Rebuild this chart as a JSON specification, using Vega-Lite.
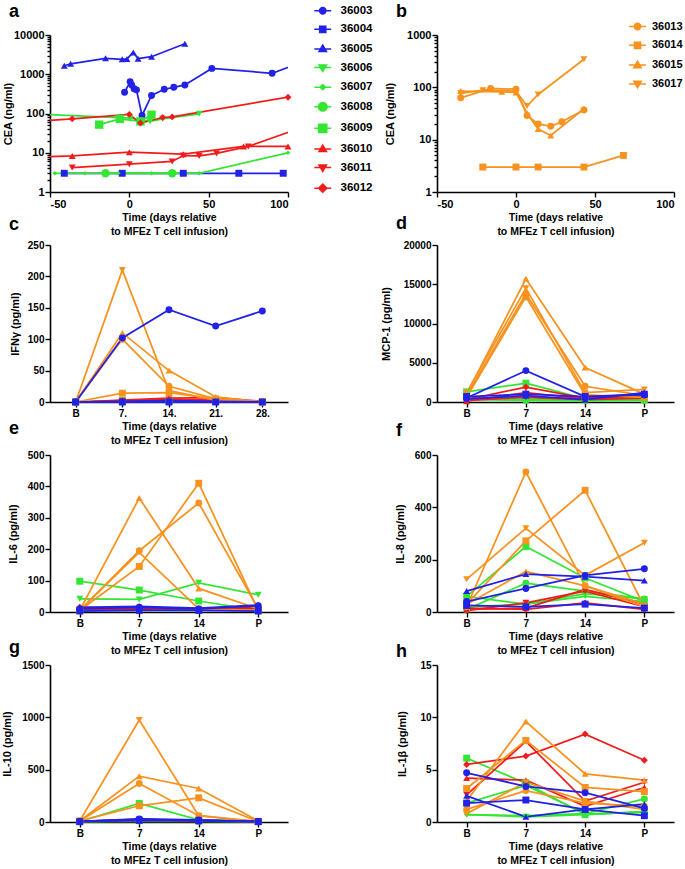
{
"$schema": "https://vega.github.io/schema/vega-lite/v6.json",
"autosize": {"type": "pad"},
"padding": {"left": 1, "top": 3, "right": 0, "bottom": 0},
"background": "white",
"config": {
  "font": "Liberation Sans",
  "view": {"stroke": null},
  "axis": {"labelFont": "Liberation Sans", "labelFontSize": 10, "labelFontWeight": "bold", "labelColor": "black", "titleFont": "Liberation Sans", "titleFontSize": 11, "titleFontWeight": "bold", "titleColor": "black", "domainColor": "black", "domainWidth": 1.6, "tickColor": "black", "tickWidth": 1.4, "tickSize": 5, "grid": false, "labelPadding": 1},
  "axisX": {"titleFontSize": 10.5, "titleLineHeight": 14, "titlePadding": 3},
  "legend": {"labelFont": "Liberation Sans", "labelFontWeight": "bold", "labelFontSize": 11.5, "labelColor": "black", "padding": 0},
  "title": {"font": "Liberation Sans", "fontSize": 18, "fontWeight": "bold", "color": "black", "anchor": "start", "frame": "group", "offset": 0, "baseline": "alphabetic"}
},
"datasets": {
"cea": [
{"p":"36003","d":-3,"v":347},{"p":"36003","d":0.5,"v":650},{"p":"36003","d":1.5,"v":535},{"p":"36003","d":3,"v":425},{"p":"36003","d":4.5,"v":400},{"p":"36003","d":8,"v":89},{"p":"36003","d":14,"v":288},{"p":"36003","d":22,"v":415},{"p":"36003","d":28,"v":465},{"p":"36003","d":35,"v":535},{"p":"36003","d":52,"v":1410},{"p":"36003","d":90,"v":1060},{"p":"36003","d":110,"v":2100},
{"p":"36004","d":-41,"v":3},{"p":"36004","d":-4.5,"v":3},{"p":"36004","d":34,"v":3},{"p":"36004","d":69,"v":3},{"p":"36004","d":97,"v":3},
{"p":"36005","d":-41,"v":1650},{"p":"36005","d":-37,"v":1850},{"p":"36005","d":-15,"v":2550},{"p":"36005","d":-4.5,"v":2400},{"p":"36005","d":-1.5,"v":2450},{"p":"36005","d":2.5,"v":3600},{"p":"36005","d":5.5,"v":2500},{"p":"36005","d":14,"v":2800},{"p":"36005","d":35,"v":6000},
{"p":"36006","d":-60,"v":97},{"p":"36006","d":0.5,"v":76},{"p":"36006","d":13,"v":63},{"p":"36006","d":21,"v":73},{"p":"36006","d":44,"v":98},
{"p":"36007","d":-47,"v":3},{"p":"36007","d":-28,"v":3},{"p":"36007","d":-7,"v":3},{"p":"36007","d":14,"v":3},{"p":"36007","d":44,"v":3},{"p":"36007","d":100,"v":10},
{"p":"36008","d":-15,"v":3},{"p":"36008","d":27,"v":3},
{"p":"36009","d":-19,"v":52},{"p":"36009","d":-6,"v":73},{"p":"36009","d":7,"v":63},{"p":"36009","d":14,"v":93},
{"p":"36010","d":-60,"v":7.8},{"p":"36010","d":-36,"v":8.3},{"p":"36010","d":0,"v":10.3},{"p":"36010","d":34,"v":9.2},{"p":"36010","d":72,"v":14.5},{"p":"36010","d":100,"v":14.5},
{"p":"36011","d":-36,"v":4.2},{"p":"36011","d":0,"v":5.1},{"p":"36011","d":27,"v":6},{"p":"36011","d":34,"v":8.5},{"p":"36011","d":44,"v":8.3},{"p":"36011","d":55,"v":9.6},{"p":"36011","d":75,"v":14.5},{"p":"36011","d":110,"v":46},
{"p":"36012","d":-60,"v":62},{"p":"36012","d":-36,"v":73},{"p":"36012","d":0,"v":95},{"p":"36012","d":7,"v":57},{"p":"36012","d":21,"v":79},{"p":"36012","d":27,"v":82},{"p":"36012","d":100,"v":260},
{"p":"36013","d":-35,"v":63},{"p":"36013","d":-16,"v":95},{"p":"36013","d":0,"v":92},{"p":"36013","d":7,"v":29},{"p":"36013","d":14,"v":20},{"p":"36013","d":22,"v":18},{"p":"36013","d":29,"v":22},{"p":"36013","d":43,"v":37},
{"p":"36014","d":-21,"v":3},{"p":"36014","d":0,"v":3},{"p":"36014","d":14,"v":3},{"p":"36014","d":43,"v":3},{"p":"36014","d":68,"v":5},
{"p":"36015","d":-35,"v":85},{"p":"36015","d":-9,"v":82},{"p":"36015","d":0,"v":80},{"p":"36015","d":7,"v":32},{"p":"36015","d":14,"v":16},{"p":"36015","d":22,"v":12},{"p":"36015","d":43,"v":39},
{"p":"36017","d":-35,"v":77},{"p":"36017","d":-21,"v":88},{"p":"36017","d":0,"v":85},{"p":"36017","d":7,"v":44},{"p":"36017","d":14,"v":73},{"p":"36017","d":43,"v":345}
],
"cyto": [
{"k":"IFNg","p":"36006","t":"B","v":0},{"k":"IFNg","p":"36006","t":"7.","v":1},{"k":"IFNg","p":"36006","t":"14.","v":1},{"k":"IFNg","p":"36006","t":"21.","v":0},{"k":"IFNg","p":"36006","t":"28.","v":0},
{"k":"IFNg","p":"36007","t":"B","v":0},{"k":"IFNg","p":"36007","t":"7.","v":0},{"k":"IFNg","p":"36007","t":"14.","v":1},{"k":"IFNg","p":"36007","t":"21.","v":0},{"k":"IFNg","p":"36007","t":"28.","v":0},
{"k":"IFNg","p":"36008","t":"B","v":0},{"k":"IFNg","p":"36008","t":"7.","v":1},{"k":"IFNg","p":"36008","t":"14.","v":1},{"k":"IFNg","p":"36008","t":"21.","v":1},{"k":"IFNg","p":"36008","t":"28.","v":0},
{"k":"IFNg","p":"36009","t":"B","v":0},{"k":"IFNg","p":"36009","t":"7.","v":2},{"k":"IFNg","p":"36009","t":"14.","v":2},{"k":"IFNg","p":"36009","t":"21.","v":1},{"k":"IFNg","p":"36009","t":"28.","v":0},
{"k":"IFNg","p":"36010","t":"B","v":0},{"k":"IFNg","p":"36010","t":"7.","v":3},{"k":"IFNg","p":"36010","t":"14.","v":6},{"k":"IFNg","p":"36010","t":"21.","v":7},{"k":"IFNg","p":"36010","t":"28.","v":1},
{"k":"IFNg","p":"36011","t":"B","v":0},{"k":"IFNg","p":"36011","t":"7.","v":2},{"k":"IFNg","p":"36011","t":"14.","v":4},{"k":"IFNg","p":"36011","t":"21.","v":3},{"k":"IFNg","p":"36011","t":"28.","v":0},
{"k":"IFNg","p":"36012","t":"B","v":0},{"k":"IFNg","p":"36012","t":"7.","v":1},{"k":"IFNg","p":"36012","t":"14.","v":3},{"k":"IFNg","p":"36012","t":"21.","v":2},{"k":"IFNg","p":"36012","t":"28.","v":0},
{"k":"IFNg","p":"36013","t":"B","v":0},{"k":"IFNg","p":"36013","t":"7.","v":100},{"k":"IFNg","p":"36013","t":"14.","v":25},{"k":"IFNg","p":"36013","t":"21.","v":5},{"k":"IFNg","p":"36013","t":"28.","v":0},
{"k":"IFNg","p":"36014","t":"B","v":0},{"k":"IFNg","p":"36014","t":"7.","v":14},{"k":"IFNg","p":"36014","t":"14.","v":15},{"k":"IFNg","p":"36014","t":"21.","v":5},{"k":"IFNg","p":"36014","t":"28.","v":0},
{"k":"IFNg","p":"36015","t":"B","v":0},{"k":"IFNg","p":"36015","t":"7.","v":110},{"k":"IFNg","p":"36015","t":"14.","v":50},{"k":"IFNg","p":"36015","t":"21.","v":8},{"k":"IFNg","p":"36015","t":"28.","v":0},
{"k":"IFNg","p":"36017","t":"B","v":0},{"k":"IFNg","p":"36017","t":"7.","v":210},{"k":"IFNg","p":"36017","t":"14.","v":18},{"k":"IFNg","p":"36017","t":"21.","v":3},{"k":"IFNg","p":"36017","t":"28.","v":0},
{"k":"IFNg","p":"36003","t":"B","v":0},{"k":"IFNg","p":"36003","t":"7.","v":102},{"k":"IFNg","p":"36003","t":"14.","v":147},{"k":"IFNg","p":"36003","t":"21.","v":121},{"k":"IFNg","p":"36003","t":"28.","v":145},
{"k":"IFNg","p":"36005","t":"B","v":0},{"k":"IFNg","p":"36005","t":"7.","v":1},{"k":"IFNg","p":"36005","t":"14.","v":2},{"k":"IFNg","p":"36005","t":"21.","v":1},{"k":"IFNg","p":"36005","t":"28.","v":0},
{"k":"IFNg","p":"36004","t":"B","v":0},{"k":"IFNg","p":"36004","t":"7.","v":0},{"k":"IFNg","p":"36004","t":"14.","v":0},{"k":"IFNg","p":"36004","t":"21.","v":0},{"k":"IFNg","p":"36004","t":"28.","v":0},

{"k":"MCP1","p":"36006","t":"B","v":500},{"k":"MCP1","p":"36006","t":"7","v":600},{"k":"MCP1","p":"36006","t":"14","v":300},{"k":"MCP1","p":"36006","t":"P","v":400},
{"k":"MCP1","p":"36007","t":"B","v":400},{"k":"MCP1","p":"36007","t":"7","v":300},{"k":"MCP1","p":"36007","t":"14","v":200},{"k":"MCP1","p":"36007","t":"P","v":300},
{"k":"MCP1","p":"36008","t":"B","v":300},{"k":"MCP1","p":"36008","t":"7","v":200},{"k":"MCP1","p":"36008","t":"14","v":150},{"k":"MCP1","p":"36008","t":"P","v":200},
{"k":"MCP1","p":"36009","t":"B","v":1300},{"k":"MCP1","p":"36009","t":"7","v":2400},{"k":"MCP1","p":"36009","t":"14","v":400},{"k":"MCP1","p":"36009","t":"P","v":300},
{"k":"MCP1","p":"36010","t":"B","v":100},{"k":"MCP1","p":"36010","t":"7","v":1200},{"k":"MCP1","p":"36010","t":"14","v":400},{"k":"MCP1","p":"36010","t":"P","v":700},
{"k":"MCP1","p":"36011","t":"B","v":200},{"k":"MCP1","p":"36011","t":"7","v":600},{"k":"MCP1","p":"36011","t":"14","v":300},{"k":"MCP1","p":"36011","t":"P","v":500},
{"k":"MCP1","p":"36012","t":"B","v":300},{"k":"MCP1","p":"36012","t":"7","v":1900},{"k":"MCP1","p":"36012","t":"14","v":500},{"k":"MCP1","p":"36012","t":"P","v":800},
{"k":"MCP1","p":"36013","t":"B","v":800},{"k":"MCP1","p":"36013","t":"7","v":13800},{"k":"MCP1","p":"36013","t":"14","v":2000},{"k":"MCP1","p":"36013","t":"P","v":800},
{"k":"MCP1","p":"36014","t":"B","v":600},{"k":"MCP1","p":"36014","t":"7","v":13400},{"k":"MCP1","p":"36014","t":"14","v":900},{"k":"MCP1","p":"36014","t":"P","v":600},
{"k":"MCP1","p":"36015","t":"B","v":1000},{"k":"MCP1","p":"36015","t":"7","v":15700},{"k":"MCP1","p":"36015","t":"14","v":4400},{"k":"MCP1","p":"36015","t":"P","v":1000},
{"k":"MCP1","p":"36017","t":"B","v":1200},{"k":"MCP1","p":"36017","t":"7","v":14500},{"k":"MCP1","p":"36017","t":"14","v":1200},{"k":"MCP1","p":"36017","t":"P","v":1600},
{"k":"MCP1","p":"36003","t":"B","v":500},{"k":"MCP1","p":"36003","t":"7","v":4000},{"k":"MCP1","p":"36003","t":"14","v":700},{"k":"MCP1","p":"36003","t":"P","v":900},
{"k":"MCP1","p":"36005","t":"B","v":400},{"k":"MCP1","p":"36005","t":"7","v":800},{"k":"MCP1","p":"36005","t":"14","v":300},{"k":"MCP1","p":"36005","t":"P","v":1200},
{"k":"MCP1","p":"36004","t":"B","v":700},{"k":"MCP1","p":"36004","t":"7","v":1000},{"k":"MCP1","p":"36004","t":"14","v":700},{"k":"MCP1","p":"36004","t":"P","v":1000},

{"k":"IL6","p":"36006","t":"B","v":42},{"k":"IL6","p":"36006","t":"7","v":40},{"k":"IL6","p":"36006","t":"14","v":93},{"k":"IL6","p":"36006","t":"P","v":55},
{"k":"IL6","p":"36007","t":"B","v":5},{"k":"IL6","p":"36007","t":"7","v":5},{"k":"IL6","p":"36007","t":"14","v":5},{"k":"IL6","p":"36007","t":"P","v":8},
{"k":"IL6","p":"36008","t":"B","v":8},{"k":"IL6","p":"36008","t":"7","v":6},{"k":"IL6","p":"36008","t":"14","v":5},{"k":"IL6","p":"36008","t":"P","v":10},
{"k":"IL6","p":"36009","t":"B","v":98},{"k":"IL6","p":"36009","t":"7","v":70},{"k":"IL6","p":"36009","t":"14","v":35},{"k":"IL6","p":"36009","t":"P","v":5},
{"k":"IL6","p":"36010","t":"B","v":12},{"k":"IL6","p":"36010","t":"7","v":8},{"k":"IL6","p":"36010","t":"14","v":8},{"k":"IL6","p":"36010","t":"P","v":15},
{"k":"IL6","p":"36011","t":"B","v":8},{"k":"IL6","p":"36011","t":"7","v":10},{"k":"IL6","p":"36011","t":"14","v":6},{"k":"IL6","p":"36011","t":"P","v":12},
{"k":"IL6","p":"36012","t":"B","v":15},{"k":"IL6","p":"36012","t":"7","v":12},{"k":"IL6","p":"36012","t":"14","v":10},{"k":"IL6","p":"36012","t":"P","v":18},
{"k":"IL6","p":"36013","t":"B","v":5},{"k":"IL6","p":"36013","t":"7","v":195},{"k":"IL6","p":"36013","t":"14","v":347},{"k":"IL6","p":"36013","t":"P","v":10},
{"k":"IL6","p":"36014","t":"B","v":5},{"k":"IL6","p":"36014","t":"7","v":145},{"k":"IL6","p":"36014","t":"14","v":410},{"k":"IL6","p":"36014","t":"P","v":5},
{"k":"IL6","p":"36015","t":"B","v":5},{"k":"IL6","p":"36015","t":"7","v":363},{"k":"IL6","p":"36015","t":"14","v":75},{"k":"IL6","p":"36015","t":"P","v":10},
{"k":"IL6","p":"36017","t":"B","v":5},{"k":"IL6","p":"36017","t":"7","v":190},{"k":"IL6","p":"36017","t":"14","v":10},{"k":"IL6","p":"36017","t":"P","v":5},
{"k":"IL6","p":"36003","t":"B","v":10},{"k":"IL6","p":"36003","t":"7","v":15},{"k":"IL6","p":"36003","t":"14","v":10},{"k":"IL6","p":"36003","t":"P","v":20},
{"k":"IL6","p":"36005","t":"B","v":15},{"k":"IL6","p":"36005","t":"7","v":18},{"k":"IL6","p":"36005","t":"14","v":12},{"k":"IL6","p":"36005","t":"P","v":22},
{"k":"IL6","p":"36004","t":"B","v":3},{"k":"IL6","p":"36004","t":"7","v":5},{"k":"IL6","p":"36004","t":"14","v":5},{"k":"IL6","p":"36004","t":"P","v":3},

{"k":"IL8","p":"36006","t":"B","v":60},{"k":"IL8","p":"36006","t":"7","v":30},{"k":"IL8","p":"36006","t":"14","v":70},{"k":"IL8","p":"36006","t":"P","v":50},
{"k":"IL8","p":"36007","t":"B","v":20},{"k":"IL8","p":"36007","t":"7","v":30},{"k":"IL8","p":"36007","t":"14","v":60},{"k":"IL8","p":"36007","t":"P","v":40},
{"k":"IL8","p":"36008","t":"B","v":10},{"k":"IL8","p":"36008","t":"7","v":110},{"k":"IL8","p":"36008","t":"14","v":80},{"k":"IL8","p":"36008","t":"P","v":50},
{"k":"IL8","p":"36009","t":"B","v":60},{"k":"IL8","p":"36009","t":"7","v":250},{"k":"IL8","p":"36009","t":"14","v":130},{"k":"IL8","p":"36009","t":"P","v":40},
{"k":"IL8","p":"36010","t":"B","v":10},{"k":"IL8","p":"36010","t":"7","v":15},{"k":"IL8","p":"36010","t":"14","v":86},{"k":"IL8","p":"36010","t":"P","v":30},
{"k":"IL8","p":"36011","t":"B","v":5},{"k":"IL8","p":"36011","t":"7","v":35},{"k":"IL8","p":"36011","t":"14","v":80},{"k":"IL8","p":"36011","t":"P","v":20},
{"k":"IL8","p":"36012","t":"B","v":15},{"k":"IL8","p":"36012","t":"7","v":10},{"k":"IL8","p":"36012","t":"14","v":35},{"k":"IL8","p":"36012","t":"P","v":10},
{"k":"IL8","p":"36013","t":"B","v":20},{"k":"IL8","p":"36013","t":"7","v":535},{"k":"IL8","p":"36013","t":"14","v":100},{"k":"IL8","p":"36013","t":"P","v":20},
{"k":"IL8","p":"36014","t":"B","v":30},{"k":"IL8","p":"36014","t":"7","v":272},{"k":"IL8","p":"36014","t":"14","v":465},{"k":"IL8","p":"36014","t":"P","v":20},
{"k":"IL8","p":"36015","t":"B","v":30},{"k":"IL8","p":"36015","t":"7","v":155},{"k":"IL8","p":"36015","t":"14","v":100},{"k":"IL8","p":"36015","t":"P","v":30},
{"k":"IL8","p":"36017","t":"B","v":125},{"k":"IL8","p":"36017","t":"7","v":320},{"k":"IL8","p":"36017","t":"14","v":140},{"k":"IL8","p":"36017","t":"P","v":265},
{"k":"IL8","p":"36003","t":"B","v":40},{"k":"IL8","p":"36003","t":"7","v":90},{"k":"IL8","p":"36003","t":"14","v":140},{"k":"IL8","p":"36003","t":"P","v":165},
{"k":"IL8","p":"36005","t":"B","v":80},{"k":"IL8","p":"36005","t":"7","v":145},{"k":"IL8","p":"36005","t":"14","v":135},{"k":"IL8","p":"36005","t":"P","v":120},
{"k":"IL8","p":"36004","t":"B","v":25},{"k":"IL8","p":"36004","t":"7","v":20},{"k":"IL8","p":"36004","t":"14","v":30},{"k":"IL8","p":"36004","t":"P","v":15},

{"k":"IL10","p":"36006","t":"B","v":5},{"k":"IL10","p":"36006","t":"7","v":10},{"k":"IL10","p":"36006","t":"14","v":10},{"k":"IL10","p":"36006","t":"P","v":5},
{"k":"IL10","p":"36007","t":"B","v":3},{"k":"IL10","p":"36007","t":"7","v":5},{"k":"IL10","p":"36007","t":"14","v":5},{"k":"IL10","p":"36007","t":"P","v":3},
{"k":"IL10","p":"36008","t":"B","v":5},{"k":"IL10","p":"36008","t":"7","v":10},{"k":"IL10","p":"36008","t":"14","v":8},{"k":"IL10","p":"36008","t":"P","v":5},
{"k":"IL10","p":"36009","t":"B","v":5},{"k":"IL10","p":"36009","t":"7","v":178},{"k":"IL10","p":"36009","t":"14","v":20},{"k":"IL10","p":"36009","t":"P","v":5},
{"k":"IL10","p":"36010","t":"B","v":5},{"k":"IL10","p":"36010","t":"7","v":20},{"k":"IL10","p":"36010","t":"14","v":15},{"k":"IL10","p":"36010","t":"P","v":5},
{"k":"IL10","p":"36011","t":"B","v":5},{"k":"IL10","p":"36011","t":"7","v":25},{"k":"IL10","p":"36011","t":"14","v":10},{"k":"IL10","p":"36011","t":"P","v":5},
{"k":"IL10","p":"36012","t":"B","v":5},{"k":"IL10","p":"36012","t":"7","v":15},{"k":"IL10","p":"36012","t":"14","v":10},{"k":"IL10","p":"36012","t":"P","v":5},
{"k":"IL10","p":"36013","t":"B","v":10},{"k":"IL10","p":"36013","t":"7","v":368},{"k":"IL10","p":"36013","t":"14","v":60},{"k":"IL10","p":"36013","t":"P","v":5},
{"k":"IL10","p":"36014","t":"B","v":10},{"k":"IL10","p":"36014","t":"7","v":155},{"k":"IL10","p":"36014","t":"14","v":231},{"k":"IL10","p":"36014","t":"P","v":5},
{"k":"IL10","p":"36015","t":"B","v":10},{"k":"IL10","p":"36015","t":"7","v":438},{"k":"IL10","p":"36015","t":"14","v":320},{"k":"IL10","p":"36015","t":"P","v":10},
{"k":"IL10","p":"36017","t":"B","v":10},{"k":"IL10","p":"36017","t":"7","v":975},{"k":"IL10","p":"36017","t":"14","v":60},{"k":"IL10","p":"36017","t":"P","v":5},
{"k":"IL10","p":"36003","t":"B","v":5},{"k":"IL10","p":"36003","t":"7","v":30},{"k":"IL10","p":"36003","t":"14","v":20},{"k":"IL10","p":"36003","t":"P","v":5},
{"k":"IL10","p":"36005","t":"B","v":5},{"k":"IL10","p":"36005","t":"7","v":25},{"k":"IL10","p":"36005","t":"14","v":15},{"k":"IL10","p":"36005","t":"P","v":5},
{"k":"IL10","p":"36004","t":"B","v":3},{"k":"IL10","p":"36004","t":"7","v":15},{"k":"IL10","p":"36004","t":"14","v":10},{"k":"IL10","p":"36004","t":"P","v":3},

{"k":"IL1b","p":"36006","t":"B","v":0.7},{"k":"IL1b","p":"36006","t":"7","v":0.5},{"k":"IL1b","p":"36006","t":"14","v":0.7},{"k":"IL1b","p":"36006","t":"P","v":1.0},
{"k":"IL1b","p":"36007","t":"B","v":0.7},{"k":"IL1b","p":"36007","t":"7","v":0.6},{"k":"IL1b","p":"36007","t":"14","v":0.8},{"k":"IL1b","p":"36007","t":"P","v":0.9},
{"k":"IL1b","p":"36008","t":"B","v":1.8},{"k":"IL1b","p":"36008","t":"7","v":3.5},{"k":"IL1b","p":"36008","t":"14","v":0.8},{"k":"IL1b","p":"36008","t":"P","v":2.2},
{"k":"IL1b","p":"36009","t":"B","v":6.1},{"k":"IL1b","p":"36009","t":"7","v":3.7},{"k":"IL1b","p":"36009","t":"14","v":0.7},{"k":"IL1b","p":"36009","t":"P","v":1.0},
{"k":"IL1b","p":"36010","t":"B","v":4.2},{"k":"IL1b","p":"36010","t":"7","v":4.0},{"k":"IL1b","p":"36010","t":"14","v":1.5},{"k":"IL1b","p":"36010","t":"P","v":3.3},
{"k":"IL1b","p":"36011","t":"B","v":2.6},{"k":"IL1b","p":"36011","t":"7","v":7.7},{"k":"IL1b","p":"36011","t":"14","v":2.0},{"k":"IL1b","p":"36011","t":"P","v":3.8},
{"k":"IL1b","p":"36012","t":"B","v":5.5},{"k":"IL1b","p":"36012","t":"7","v":6.3},{"k":"IL1b","p":"36012","t":"14","v":8.4},{"k":"IL1b","p":"36012","t":"P","v":5.9},
{"k":"IL1b","p":"36013","t":"B","v":1.2},{"k":"IL1b","p":"36013","t":"7","v":3.0},{"k":"IL1b","p":"36013","t":"14","v":1.8},{"k":"IL1b","p":"36013","t":"P","v":1.5},
{"k":"IL1b","p":"36014","t":"B","v":3.2},{"k":"IL1b","p":"36014","t":"7","v":7.8},{"k":"IL1b","p":"36014","t":"14","v":3.3},{"k":"IL1b","p":"36014","t":"P","v":2.9},
{"k":"IL1b","p":"36015","t":"B","v":2.0},{"k":"IL1b","p":"36015","t":"7","v":9.6},{"k":"IL1b","p":"36015","t":"14","v":4.6},{"k":"IL1b","p":"36015","t":"P","v":4.0},
{"k":"IL1b","p":"36017","t":"B","v":0.8},{"k":"IL1b","p":"36017","t":"7","v":3.8},{"k":"IL1b","p":"36017","t":"14","v":2.0},{"k":"IL1b","p":"36017","t":"P","v":1.2},
{"k":"IL1b","p":"36003","t":"B","v":4.7},{"k":"IL1b","p":"36003","t":"7","v":3.4},{"k":"IL1b","p":"36003","t":"14","v":2.8},{"k":"IL1b","p":"36003","t":"P","v":1.3},
{"k":"IL1b","p":"36005","t":"B","v":2.5},{"k":"IL1b","p":"36005","t":"7","v":0.5},{"k":"IL1b","p":"36005","t":"14","v":1.2},{"k":"IL1b","p":"36005","t":"P","v":1.7},
{"k":"IL1b","p":"36004","t":"B","v":1.8},{"k":"IL1b","p":"36004","t":"7","v":2.1},{"k":"IL1b","p":"36004","t":"14","v":1.2},{"k":"IL1b","p":"36004","t":"P","v":0.6}
]
},
"columns": 2,
"spacing": {"row": 53, "column": 149},
"bounds": "flush",
"resolve": {"scale": {"color": "independent", "shape": "independent"}, "legend": {"color": "independent"}},
"concat": [
{
  "width": 238, "height": 157,
  "title": {"text": "a", "dx": -41, "dy": 20},
  "data": {"name": "cea"},
  "transform": [{"filter": "toNumber(datum.p) <= 36012"}],
  "encoding": {
    "x": {"field": "d", "type": "quantitative", "scale": {"domain": [-50, 100], "nice": false, "zero": false}, "axis": {"title": ["Time (days relative", "to MFEz T cell infusion)"], "values": [-50, 0, 50, 100], "labelExpr": "'' + datum.value", "labelFontSize": 11}},
    "color": {"field": "p", "type": "nominal",
      "scale": {"domain": ["36003","36004","36005","36006","36007","36008","36009","36010","36011","36012","36013","36014","36015","36017"], "range": ["#2121e8","#2121e8","#2121e8","#33e633","#33e633","#33e633","#33e633","#f21b1b","#f21b1b","#f21b1b","#f8921e","#f8921e","#f8921e","#f8921e"]},
      "legend": {"title": null, "orient": "none", "legendX": 267, "legendY": -30, "values": ["36003","36004","36005","36006","36007","36008","36009","36010","36011","36012"], "rowPadding": 5.6, "symbolSize": 42, "labelOffset": 12,
        "encode": {"symbols": {"update": {
          "shape": {"signal": "indexof(['36003','36013'], datum.label) >= 0 ? 'M-1,0A1,1,0,1,1,1,0A1,1,0,1,1,-1,0ZM-2.6,0H2.6' : datum.label == '36008' ? 'M-1.35,0A1.35,1.35,0,1,1,1.35,0A1.35,1.35,0,1,1,-1.35,0ZM-2.6,0H2.6' : indexof(['36004','36014'], datum.label) >= 0 ? 'M-0.95,-0.95H0.95V0.95H-0.95ZM-2.6,0H2.6' : datum.label == '36009' ? 'M-1.25,-1.25H1.25V1.25H-1.25ZM-2.6,0H2.6' : indexof(['36005','36010','36015'], datum.label) >= 0 ? 'M0,-1.2L1.15,0.8H-1.15ZM-2.6,0H2.6' : indexof(['36006','36011','36017'], datum.label) >= 0 ? 'M0,1.2L1.15,-0.8H-1.15ZM-2.6,0H2.6' : datum.label == '36007' ? 'M0,-0.8L0.8,0L0,0.8L-0.8,0ZM-2.6,0H2.6' : 'M0,-1.25L1.25,0L0,1.25L-1.25,0ZM-2.6,0H2.6'"},
          "strokeWidth": {"value": 1.5}, "size": {"value": 42}, "opacity": {"value": 1}}}}}
    }
  },
  "layer": [
    {"mark": {"type": "line", "strokeWidth": 1.75, "clip": true},
     "encoding": {"y": {"field": "v", "type": "quantitative", "scale": {"type": "log", "domain": [1, 10000], "nice": false}, "axis": {"orient": "left", "title": null, "labels": false, "domain": false, "tickSize": 3, "values": [2,3,4,5,6,7,8,9,20,30,40,50,60,70,80,90,200,300,400,500,600,700,800,900,2000,3000,4000,5000,6000,7000,8000,9000]}}}},
    {"transform": [{"filter": "datum.d >= -50 && datum.d <= 100"}],
     "mark": {"type": "point", "filled": true, "opacity": 1},
     "encoding": {
       "y": {"field": "v", "type": "quantitative", "axis": {"orient": "left", "title": "CEA (ng/ml)", "values": [1, 10, 100, 1000, 10000], "format": "d", "labelFontSize": 11, "titlePadding": 0}},
       "shape": {"field": "p", "type": "nominal", "scale": {"domain": ["36017","36015","36014","36013","36012","36011","36010","36009","36008","36007","36006","36005","36004","36003"], "range": ["triangle-down","triangle-up","square","circle","diamond","triangle-down","triangle-up","square","circle","diamond","triangle-down","triangle-up","square","circle"]}, "legend": null},
       "size": {"condition": [{"test": "datum.p == '36007'", "value": 22}, {"test": "datum.p == '36008' || datum.p == '36009'", "value": 70}], "value": 48}
     }}
  ],
  "resolve": {"axis": {"y": "independent"}}
},
{
  "width": 237, "height": 157,
  "title": {"text": "b", "dx": -41, "dy": 4},
  "data": {"name": "cea"},
  "transform": [{"filter": "toNumber(datum.p) > 36012"}],
  "encoding": {
    "x": {"field": "d", "type": "quantitative", "scale": {"domain": [-50, 100], "nice": false, "zero": false}, "axis": {"title": ["Time (days relative", "to MFEz T cell infusion)"], "values": [-50, 0, 50, 100], "labelExpr": "'' + datum.value", "labelFontSize": 11}},
    "color": {"field": "p", "type": "nominal",
      "scale": {"domain": ["36003","36004","36005","36006","36007","36008","36009","36010","36011","36012","36013","36014","36015","36017"], "range": ["#2121e8","#2121e8","#2121e8","#33e633","#33e633","#33e633","#33e633","#f21b1b","#f21b1b","#f21b1b","#f8921e","#f8921e","#f8921e","#f8921e"]},
      "legend": {"title": null, "orient": "none", "legendX": 195, "legendY": -14, "values": ["36013","36014","36015","36017"], "rowPadding": 5.8, "symbolSize": 42, "labelOffset": 9, "labelFontSize": 11,
        "encode": {"symbols": {"update": {
          "shape": {"signal": "datum.label == '36013' ? 'M-1,0A1,1,0,1,1,1,0A1,1,0,1,1,-1,0ZM-2.6,0H2.6' : datum.label == '36014' ? 'M-0.95,-0.95H0.95V0.95H-0.95ZM-2.6,0H2.6' : datum.label == '36015' ? 'M0,-1.2L1.15,0.8H-1.15ZM-2.6,0H2.6' : 'M0,1.2L1.15,-0.8H-1.15ZM-2.6,0H2.6'"},
          "strokeWidth": {"value": 1.5}, "size": {"value": 42}, "opacity": {"value": 1}}}}}
    }
  },
  "layer": [
    {"mark": {"type": "line", "strokeWidth": 1.75, "clip": true},
     "encoding": {"y": {"field": "v", "type": "quantitative", "scale": {"type": "log", "domain": [1, 1000], "nice": false}, "axis": {"orient": "left", "title": null, "labels": false, "domain": false, "tickSize": 3, "values": [2,3,4,5,6,7,8,9,20,30,40,50,60,70,80,90,200,300,400,500,600,700,800,900]}}}},
    {"transform": [{"filter": "datum.d >= -50 && datum.d <= 100"}],
     "mark": {"type": "point", "filled": true, "opacity": 1},
     "encoding": {
       "y": {"field": "v", "type": "quantitative", "axis": {"orient": "left", "title": "CEA (ng/ml)", "values": [1, 10, 100, 1000], "format": "d", "labelFontSize": 11, "titlePadding": 11}},
       "shape": {"field": "p", "type": "nominal", "scale": {"domain": ["36017","36015","36014","36013","36012","36011","36010","36009","36008","36007","36006","36005","36004","36003"], "range": ["triangle-down","triangle-up","square","circle","diamond","triangle-down","triangle-up","square","circle","diamond","triangle-down","triangle-up","square","circle"]}, "legend": null},
       "size": {"value": 48}
     }}
  ],
  "resolve": {"axis": {"y": "independent"}}
},
{
  "width": 238, "height": 157,
  "title": {"text": "c", "dx": -41, "dy": -2},
  "data": {"name": "cyto"},
  "transform": [{"filter": "datum.k == 'IFNg'"}],
  "encoding": {
    "x": {"field": "t", "type": "ordinal", "sort": ["B","7.","14.","21.","28."], "scale": {"type": "point", "padding": 0.55}, "axis": {"title": ["Time (days relative", "to MFEz T cell infusion)"], "labelAngle": 0}},
    "y": {"field": "v", "type": "quantitative", "scale": {"domain": [0, 250], "nice": false}, "axis": {"title": "IFNγ (pg/ml)", "values": [0,50,100,150,200,250], "format": "d", "titlePadding": 7}},
    "color": {"field": "p", "type": "nominal", "scale": {"domain": ["36003","36004","36005","36006","36007","36008","36009","36010","36011","36012","36013","36014","36015","36017"], "range": ["#2121e8","#2121e8","#2121e8","#33e633","#33e633","#33e633","#33e633","#f21b1b","#f21b1b","#f21b1b","#f8921e","#f8921e","#f8921e","#f8921e"]}, "legend": null}
  },
  "layer": [
    {"mark": {"type": "line", "strokeWidth": 1.75}, "encoding": {"order": {"value": null}}},
    {"mark": {"type": "point", "filled": true, "opacity": 1}, "encoding": {
      "shape": {"field": "p", "type": "nominal", "scale": {"domain": ["36003","36004","36005","36006","36007","36008","36009","36010","36011","36012","36013","36014","36015","36017"], "range": ["circle","square","triangle-up","triangle-down","diamond","circle","square","triangle-up","triangle-down","diamond","circle","square","triangle-up","triangle-down"]}, "legend": null},
      "size": {"condition": [{"test": "datum.p == '36007'", "value": 25}], "value": 48}}}
  ]
},
{
  "width": 237, "height": 157,
  "title": {"text": "d", "dx": -41, "dy": -3},
  "data": {"name": "cyto"},
  "transform": [{"filter": "datum.k == 'MCP1'"}],
  "encoding": {
    "x": {"field": "t", "type": "ordinal", "sort": ["B","7","14","P"], "scale": {"type": "point", "padding": 0.5}, "axis": {"title": ["Time (days relative", "to MFEz T cell infusion)"], "labelAngle": 0}},
    "y": {"field": "v", "type": "quantitative", "scale": {"domain": [0, 20000], "nice": false}, "axis": {"title": "MCP-1 (pg/ml)", "values": [0,5000,10000,15000,20000], "format": "d", "titlePadding": 12}},
    "color": {"field": "p", "type": "nominal", "scale": {"domain": ["36003","36004","36005","36006","36007","36008","36009","36010","36011","36012","36013","36014","36015","36017"], "range": ["#2121e8","#2121e8","#2121e8","#33e633","#33e633","#33e633","#33e633","#f21b1b","#f21b1b","#f21b1b","#f8921e","#f8921e","#f8921e","#f8921e"]}, "legend": null}
  },
  "layer": [
    {"mark": {"type": "line", "strokeWidth": 1.75}, "encoding": {"order": {"value": null}}},
    {"mark": {"type": "point", "filled": true, "opacity": 1}, "encoding": {
      "shape": {"field": "p", "type": "nominal", "scale": {"domain": ["36003","36004","36005","36006","36007","36008","36009","36010","36011","36012","36013","36014","36015","36017"], "range": ["circle","square","triangle-up","triangle-down","diamond","circle","square","triangle-up","triangle-down","diamond","circle","square","triangle-up","triangle-down"]}, "legend": null},
      "size": {"condition": [{"test": "datum.p == '36007'", "value": 25}], "value": 48}}}
  ]
},
{
  "width": 238, "height": 157,
  "title": {"text": "e", "dx": -41, "dy": -8},
  "data": {"name": "cyto"},
  "transform": [{"filter": "datum.k == 'IL6'"}],
  "encoding": {
    "x": {"field": "t", "type": "ordinal", "sort": ["B","7","14","P"], "scale": {"type": "point", "padding": 0.5}, "axis": {"title": ["Time (days relative", "to MFEz T cell infusion)"], "labelAngle": 0}},
    "y": {"field": "v", "type": "quantitative", "scale": {"domain": [0, 500], "nice": false}, "axis": {"title": "IL-6 (pg/ml)", "values": [0,100,200,300,400,500], "format": "d", "titlePadding": 9}},
    "color": {"field": "p", "type": "nominal", "scale": {"domain": ["36003","36004","36005","36006","36007","36008","36009","36010","36011","36012","36013","36014","36015","36017"], "range": ["#2121e8","#2121e8","#2121e8","#33e633","#33e633","#33e633","#33e633","#f21b1b","#f21b1b","#f21b1b","#f8921e","#f8921e","#f8921e","#f8921e"]}, "legend": null}
  },
  "layer": [
    {"mark": {"type": "line", "strokeWidth": 1.75}, "encoding": {"order": {"value": null}}},
    {"mark": {"type": "point", "filled": true, "opacity": 1}, "encoding": {
      "shape": {"field": "p", "type": "nominal", "scale": {"domain": ["36003","36004","36005","36006","36007","36008","36009","36010","36011","36012","36013","36014","36015","36017"], "range": ["circle","square","triangle-up","triangle-down","diamond","circle","square","triangle-up","triangle-down","diamond","circle","square","triangle-up","triangle-down"]}, "legend": null},
      "size": {"condition": [{"test": "datum.p == '36007'", "value": 25}], "value": 48}}}
  ]
},
{
  "width": 237, "height": 157,
  "title": {"text": "f", "dx": -41, "dy": -6},
  "data": {"name": "cyto"},
  "transform": [{"filter": "datum.k == 'IL8'"}],
  "encoding": {
    "x": {"field": "t", "type": "ordinal", "sort": ["B","7","14","P"], "scale": {"type": "point", "padding": 0.5}, "axis": {"title": ["Time (days relative", "to MFEz T cell infusion)"], "labelAngle": 0}},
    "y": {"field": "v", "type": "quantitative", "scale": {"domain": [0, 600], "nice": false}, "axis": {"title": "IL-8 (pg/ml)", "values": [0,200,400,600], "format": "d", "titlePadding": 9}},
    "color": {"field": "p", "type": "nominal", "scale": {"domain": ["36003","36004","36005","36006","36007","36008","36009","36010","36011","36012","36013","36014","36015","36017"], "range": ["#2121e8","#2121e8","#2121e8","#33e633","#33e633","#33e633","#33e633","#f21b1b","#f21b1b","#f21b1b","#f8921e","#f8921e","#f8921e","#f8921e"]}, "legend": null}
  },
  "layer": [
    {"mark": {"type": "line", "strokeWidth": 1.75}, "encoding": {"order": {"value": null}}},
    {"mark": {"type": "point", "filled": true, "opacity": 1}, "encoding": {
      "shape": {"field": "p", "type": "nominal", "scale": {"domain": ["36003","36004","36005","36006","36007","36008","36009","36010","36011","36012","36013","36014","36015","36017"], "range": ["circle","square","triangle-up","triangle-down","diamond","circle","square","triangle-up","triangle-down","diamond","circle","square","triangle-up","triangle-down"]}, "legend": null},
      "size": {"condition": [{"test": "datum.p == '36007'", "value": 25}], "value": 48}}}
  ]
},
{
  "width": 238, "height": 157,
  "title": {"text": "g", "dx": -41, "dy": 1},
  "data": {"name": "cyto"},
  "transform": [{"filter": "datum.k == 'IL10'"}],
  "encoding": {
    "x": {"field": "t", "type": "ordinal", "sort": ["B","7","14","P"], "scale": {"type": "point", "padding": 0.5}, "axis": {"title": ["Time (days relative", "to MFEz T cell infusion)"], "labelAngle": 0}},
    "y": {"field": "v", "type": "quantitative", "scale": {"domain": [0, 1500], "nice": false}, "axis": {"title": "IL-10 (pg/ml)", "values": [0,500,1000,1500], "format": "d", "titlePadding": 9}},
    "color": {"field": "p", "type": "nominal", "scale": {"domain": ["36003","36004","36005","36006","36007","36008","36009","36010","36011","36012","36013","36014","36015","36017"], "range": ["#2121e8","#2121e8","#2121e8","#33e633","#33e633","#33e633","#33e633","#f21b1b","#f21b1b","#f21b1b","#f8921e","#f8921e","#f8921e","#f8921e"]}, "legend": null}
  },
  "layer": [
    {"mark": {"type": "line", "strokeWidth": 1.75}, "encoding": {"order": {"value": null}}},
    {"mark": {"type": "point", "filled": true, "opacity": 1}, "encoding": {
      "shape": {"field": "p", "type": "nominal", "scale": {"domain": ["36003","36004","36005","36006","36007","36008","36009","36010","36011","36012","36013","36014","36015","36017"], "range": ["circle","square","triangle-up","triangle-down","diamond","circle","square","triangle-up","triangle-down","diamond","circle","square","triangle-up","triangle-down"]}, "legend": null},
      "size": {"condition": [{"test": "datum.p == '36007'", "value": 25}], "value": 48}}}
  ]
},
{
  "width": 237, "height": 157,
  "title": {"text": "h", "dx": -41, "dy": 5},
  "data": {"name": "cyto"},
  "transform": [{"filter": "datum.k == 'IL1b'"}],
  "encoding": {
    "x": {"field": "t", "type": "ordinal", "sort": ["B","7","14","P"], "scale": {"type": "point", "padding": 0.5}, "axis": {"title": ["Time (days relative", "to MFEz T cell infusion)"], "labelAngle": 0}},
    "y": {"field": "v", "type": "quantitative", "scale": {"domain": [0, 15], "nice": false}, "axis": {"title": "IL-1β (pg/ml)", "values": [0,5,10,15], "format": "d", "titlePadding": 12}},
    "color": {"field": "p", "type": "nominal", "scale": {"domain": ["36003","36004","36005","36006","36007","36008","36009","36010","36011","36012","36013","36014","36015","36017"], "range": ["#2121e8","#2121e8","#2121e8","#33e633","#33e633","#33e633","#33e633","#f21b1b","#f21b1b","#f21b1b","#f8921e","#f8921e","#f8921e","#f8921e"]}, "legend": null}
  },
  "layer": [
    {"mark": {"type": "line", "strokeWidth": 1.75}, "encoding": {"order": {"value": null}}},
    {"mark": {"type": "point", "filled": true, "opacity": 1}, "encoding": {
      "shape": {"field": "p", "type": "nominal", "scale": {"domain": ["36003","36004","36005","36006","36007","36008","36009","36010","36011","36012","36013","36014","36015","36017"], "range": ["circle","square","triangle-up","triangle-down","diamond","circle","square","triangle-up","triangle-down","diamond","circle","square","triangle-up","triangle-down"]}, "legend": null},
      "size": {"condition": [{"test": "datum.p == '36007'", "value": 25}], "value": 48}}}
  ]
}
]
}
